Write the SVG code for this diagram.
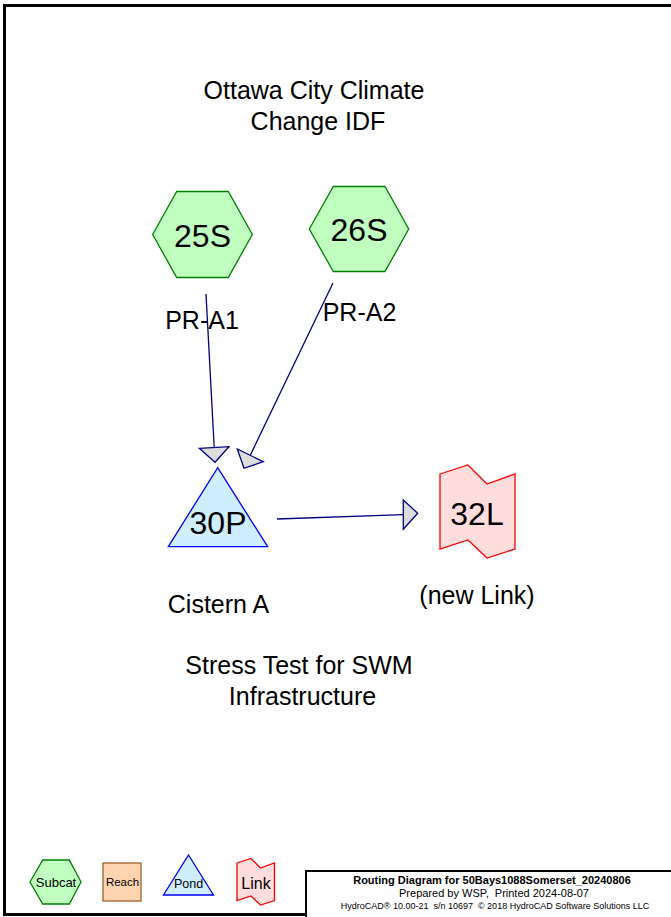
<svg xmlns="http://www.w3.org/2000/svg" width="671" height="917" viewBox="0 0 671 917">
<style>
text{font-family:"Liberation Sans",Arial,sans-serif;fill:#000;text-anchor:middle;white-space:pre}
.lbl{font-size:25px}
.num{font-size:32px}
.sub{fill:#c0ffc0;stroke:#008000;stroke-width:1.3}
.pond{fill:#cfeeff;stroke:#0000ff;stroke-width:1.3}
.link{fill:#ffdddd;stroke:#ff0000;stroke-width:1.3}
.reach{fill:#fcd5b0;stroke:#a0602a;stroke-width:1.3}
.edge{stroke:#000080;stroke-width:1.3;fill:none}
.head{fill:#dddddd;stroke:#000080;stroke-width:1.3;stroke-linejoin:miter}
</style>
<rect x="0" y="0" width="671" height="917" fill="#fff"/>
<rect x="4.5" y="5.5" width="680" height="909" fill="none" stroke="#000" stroke-width="3"/>
<text class="lbl" x="314" y="99">Ottawa City Climate</text>
<text class="lbl" x="318" y="130">Change IDF</text>
<g id="connectors">
<line class="edge" x1="206" y1="294" x2="214.2" y2="447.5"/>
<polygon class="head" points="199.3,448.3 229,446.7 215,462.3"/>
<line class="edge" x1="333" y1="283" x2="250.3" y2="455.3"/>
<polygon class="head" points="237.3,449 263.3,461.7 244,468.3"/>
<line class="edge" x1="277" y1="519" x2="403.3" y2="514.7"/>
<polygon class="head" points="403.3,500 403.3,529.3 417.7,513.3"/>
</g>
<g id="node-25S">
<polygon class="sub" points="152.7,234.5 176.7,191.5 228.3,191.5 252.3,234.5 228.3,277.5 176.7,277.5"/>
<text class="num" x="202.5" y="246.5">25S</text>
<text class="lbl" x="202" y="329">PR-A1</text>
</g>
<g id="node-26S">
<polygon class="sub" points="309.3,229 333.3,186.5 385,186.5 408.7,229 385,271.5 333.3,271.5"/>
<text class="num" x="359" y="241">26S</text>
<text class="lbl" x="359.5" y="321">PR-A2</text>
</g>
<g id="node-30P">
<polygon class="pond" points="217.7,467.7 267.7,546.7 168.3,546.7"/>
<text class="num" x="218" y="534">30P</text>
<text class="lbl" x="218.5" y="613">Cistern A</text>
</g>
<g id="node-32L">
<polygon class="link" points="440,474 468,465 487,484 515,474 515,549 487,558 468,540 440,549"/>
<text class="num" x="477" y="525">32L</text>
<text class="lbl" x="477" y="604">(new Link)</text>
</g>
<g id="note">
<text class="lbl" x="299" y="674">Stress Test for SWM</text>
<text class="lbl" x="302.5" y="705">Infrastructure</text>
</g>
<g id="legend">
<g id="legend-subcat">
<polygon class="sub" points="30,882 42.7,860 69.3,860 81,882 69.3,904 42.7,904"/>
<text x="56" y="887" style="font-size:13px">Subcat</text>
</g>
<g id="legend-reach">
<rect class="reach" x="103" y="863" width="38" height="38"/>
<text x="122.5" y="886" style="font-size:11.5px">Reach</text>
</g>
<g id="legend-pond">
<polygon class="pond" points="188.5,855 213.5,895 163.5,895"/>
<text x="188.5" y="888" style="font-size:12.5px">Pond</text>
</g>
<g id="legend-link">
<polygon class="link" points="237,863 251,858.5 260.5,868 274.5,863 274.5,900.5 260.5,905 251,896 237,900.5"/>
<text x="256" y="889" style="font-size:16px">Link</text>
</g>
</g>
<g id="title-block">
<rect x="306" y="871" width="380" height="50" fill="#fff" stroke="#000" stroke-width="2"/>
<text x="492" y="884" style="font-size:11px;font-weight:bold">Routing Diagram for 50Bays1088Somerset_20240806</text>
<text x="494" y="897" style="font-size:11px" xml:space="preserve">Prepared by WSP,  Printed 2024-08-07</text>
<text x="495" y="909" style="font-size:9px" xml:space="preserve">HydroCAD® 10.00-21  s/n 10697  © 2018 HydroCAD Software Solutions LLC</text>
</g>
</svg>
